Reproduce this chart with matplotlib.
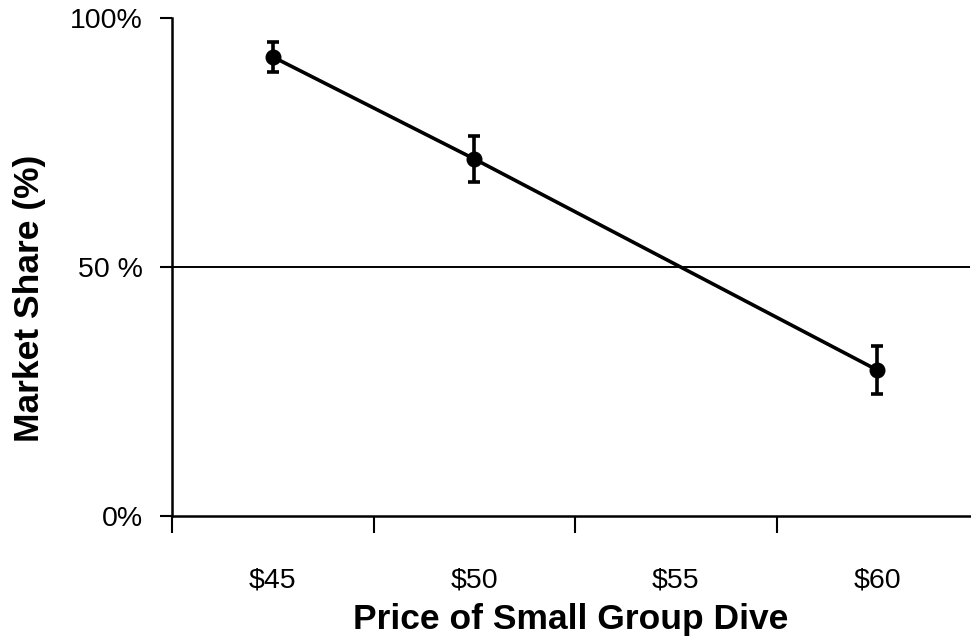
import numpy as np
import matplotlib
matplotlib.use("Agg")
import matplotlib.pyplot as plt

plt.rcParams['font.family'] = ['Liberation Sans', 'DejaVu Sans']

price_labels = ['$45', '$50', '$55', '$60']
tested_prices = ['$45', '$50', '$60']
share = [0.922, 0.717, 0.293]
share_err = [0.030, 0.047, 0.048]
y_ticks = [0.0, 0.5, 1.0]
y_tick_labels = ['0%', '50 %', '100%']

fig = plt.figure(figsize=(9.71, 6.39), dpi=100)
ax = fig.add_axes([172 / 971, 1 - 516 / 639, (970 - 172) / 971, (516 - 18) / 639])

x = [price_labels.index(p) for p in tested_prices]
ax.errorbar(x, share, yerr=share_err, color='black', lw=2.6, marker='o', ms=10.5,
            elinewidth=2.6, capsize=4.5, capthick=2.6, zorder=3)

# 50% reference line
ax.axhline(0.5, color='black', lw=1.4, zorder=1)

ax.set_ylim(0, 1)
ax.set_xlim(-0.5, 3.46)

ax.set_yticks(y_ticks)
ax.set_yticklabels(y_tick_labels, fontsize=20.5)
ax.tick_params(axis='y', direction='out', length=9, width=1.5, pad=12)

# category boundaries get the tick marks, labels sit in the middle
ax.set_xticks(np.arange(len(price_labels)))
ax.set_xticklabels(price_labels, fontsize=20.5)
ax.set_xticks(np.arange(-0.5, len(price_labels) - 0.5, 1), minor=True)
ax.tick_params(axis='x', which='major', length=0, pad=37)
ax.tick_params(axis='x', which='minor', direction='out', length=12, width=1.5)

for side in ['top', 'right']:
    ax.spines[side].set_visible(False)
for side in ['left', 'bottom']:
    ax.spines[side].set_linewidth(1.8)

ax.set_xlabel('Price of Small Group Dive', fontsize=25.5, fontweight='bold', labelpad=7)
ax.set_ylabel('Market Share (%)', fontsize=25.5, fontweight='bold')
ax.yaxis.set_label_coords(-0.158, 0.438)

fig.savefig('out.png', dpi=100)
